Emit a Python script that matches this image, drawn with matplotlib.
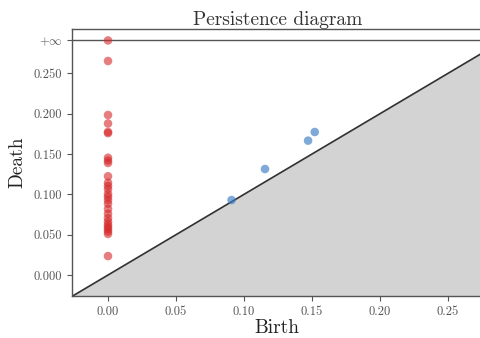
import numpy as np
import matplotlib
matplotlib.use("Agg")
from matplotlib import pyplot as plt

plt.rcParams['font.family'] = ['cmr10', 'DejaVu Serif']
plt.rcParams['mathtext.fontset'] = 'cm'
plt.rcParams['axes.unicode_minus'] = False

# H0 points (birth = 0)
h0_death = [0.2655, 0.1985, 0.188, 0.1775, 0.176, 0.1455, 0.142, 0.139,
            0.1225, 0.1145, 0.1105, 0.1065, 0.1005, 0.097, 0.093, 0.0885,
            0.082, 0.076, 0.0705, 0.066, 0.0625, 0.0595, 0.057, 0.054,
            0.051, 0.0235]
h0_birth = [0.0] * len(h0_death)
inf_value = 0.291

# H1 points
h1_birth = [0.0909, 0.1155, 0.1472, 0.1521]
h1_death = [0.093, 0.1315, 0.1667, 0.1774]

xlim = (-0.0265, 0.2755)
ylim = (-0.026, 0.3052)
xticks = [0.00, 0.05, 0.10, 0.15, 0.20, 0.25]
xticklabels = ['0.00', '0.05', '0.10', '0.15', '0.20', '0.25']
yticks = [0.000, 0.050, 0.100, 0.150, 0.200, 0.250, inf_value]
yticklabels = ['0.000', '0.050', '0.100', '0.150', '0.200', '0.250', r'$+\infty$']

fig = plt.figure(figsize=(4.81, 3.38), dpi=100)
ax = fig.add_axes([0.1497, 0.1243, 0.8533, 0.7899])

diag = np.array([-1.0, 1.0])
ax.fill_between(diag, diag, -1.0, color='#d3d3d3', zorder=0)
ax.plot(diag, diag, color='#333333', lw=1.2, zorder=1)
ax.axhline(inf_value, color='#555555', lw=1.0, zorder=1)

ax.scatter(h0_birth, h0_death, s=38, color='#d62728', alpha=0.6,
           edgecolors='none', zorder=3)
ax.scatter([0.0], [inf_value], s=38, color='#d62728', alpha=0.6,
           edgecolors='none', zorder=3)
ax.scatter(h1_birth, h1_death, s=38, color='#3a7cc4', alpha=0.65,
           edgecolors='none', zorder=3)

ax.set_xlim(*xlim)
ax.set_ylim(*ylim)
ax.set_xticks(xticks)
ax.set_xticklabels(xticklabels)
ax.set_yticks(yticks)
ax.set_yticklabels(yticklabels)
ax.tick_params(labelsize=9, colors='#555555', length=3.5, width=0.8)
for side in ['left', 'bottom', 'top']:
    ax.spines[side].set_color('#555555')
    ax.spines[side].set_linewidth(1.0)
ax.spines['right'].set_visible(False)

ax.set_title('Persistence diagram', fontsize=14, pad=3, color='#333333')
ax.set_xlabel('Birth', fontsize=14, labelpad=1, color='#222222')
ax.set_ylabel('Death', fontsize=14, labelpad=5, color='#222222')

fig.savefig('out.png', dpi=100)
